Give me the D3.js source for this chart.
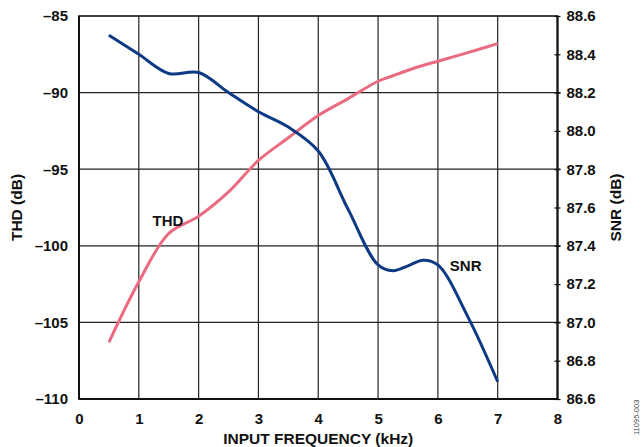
<!DOCTYPE html>
<html>
<head>
<meta charset="utf-8">
<script src="https://cdn.jsdelivr.net/npm/d3@7"></script>
<style>
  body { margin: 0; background: #fff; }
  text { font-family: "Liberation Sans", Arial, sans-serif; font-weight: bold; fill: #111; }
</style>
</head>
<body>
<script>
// input frequency, kHz
var freq = [0.5, 1, 1.5, 2, 2.5, 3, 3.5, 4, 4.5, 5, 5.25, 5.5, 5.75, 6, 6.5, 7];
// THD, dB (left axis)
var thd = [-106.3, -102.35, -99.2, -98.07, -96.48, -94.43, -92.95, -91.5, -90.39, -89.26, -88.9, -88.54, -88.23, -87.95, -87.39, -86.8];
// SNR, dB (right axis)
var snr = [88.50, 88.40, 88.30, 88.305, 88.20, 88.10, 88.02, 87.895, 87.59, 87.30, 87.27, 87.295, 87.325, 87.30, 87.03, 86.69];

var xTicks = [0, 1, 2, 3, 4, 5, 6, 7, 8];
var thdTicks = [-85, -90, -95, -100, -105, -110];
var snrTicks = [88.6, 88.4, 88.2, 88.0, 87.8, 87.6, 87.4, 87.2, 87.0, 86.8, 86.6];

var W = 641, H = 447;
var margin = {top: 16, right: 83.5, bottom: 48, left: 79},
    width = W - margin.left - margin.right,
    height = H - margin.top - margin.bottom;

var x = d3.scaleLinear().domain([0, 8]).range([0, width]);
var yL = d3.scaleLinear().domain([-110, -85]).range([height, 0]);
var yR = d3.scaleLinear().domain([86.6, 88.6]).range([height, 0]);

var svg = d3.select("body").append("svg")
    .attr("width", W)
    .attr("height", H);

var g = svg.append("g")
    .attr("transform", "translate(" + margin.left + "," + margin.top + ")");

var minus = function(v) { return String(v).replace("-", "\u2013"); };

// grid
g.append("g")
    .selectAll("line")
    .data(xTicks.slice(1, -1))
    .join("line")
    .attr("x1", function(d) { return x(d); })
    .attr("x2", function(d) { return x(d); })
    .attr("y1", 0)
    .attr("y2", height)
    .attr("stroke", "#222")
    .attr("stroke-width", 1.2);

g.append("g")
    .selectAll("line")
    .data(thdTicks.slice(1, -1))
    .join("line")
    .attr("x1", 0)
    .attr("x2", width + 3)
    .attr("y1", function(d) { return yL(d); })
    .attr("y2", function(d) { return yL(d); })
    .attr("stroke", "#222")
    .attr("stroke-width", 1.2);

// frame
g.append("rect")
    .attr("width", width)
    .attr("height", height)
    .attr("fill", "none")
    .attr("stroke", "#111")
    .attr("stroke-width", 1.6);
g.append("line").attr("x1", 0).attr("x2", 0).attr("y1", 0).attr("y2", height)
    .attr("stroke", "#111").attr("stroke-width", 2);
g.append("line").attr("x1", 0).attr("x2", width).attr("y1", height).attr("y2", height)
    .attr("stroke", "#111").attr("stroke-width", 2);
g.append("line").attr("x1", width).attr("x2", width).attr("y1", 0).attr("y2", height)
    .attr("stroke", "#111").attr("stroke-width", 2);

// axes
var xAxis = d3.axisBottom(x).tickValues(xTicks).tickSize(0).tickPadding(14)
    .tickFormat(d3.format("d"));
var leftAxis = d3.axisLeft(yL).tickValues(thdTicks).tickSize(0).tickPadding(11)
    .tickFormat(minus);
var rightAxis = d3.axisRight(yR).tickValues(snrTicks).tickSize(3).tickPadding(6)
    .tickFormat(d3.format(".1f"));

function styleAxis(sel) {
    sel.select(".domain").remove();
    sel.selectAll("text").style("font-size", "15px").attr("fill", "#111");
}

g.append("g")
    .attr("transform", "translate(0," + height + ")")
    .call(xAxis)
    .call(styleAxis);

g.append("g")
    .call(leftAxis)
    .call(styleAxis);

g.append("g")
    .attr("transform", "translate(" + width + ",0)")
    .call(rightAxis)
    .call(styleAxis)
    .call(function(s) {
        s.selectAll(".tick line").attr("x1", -3).attr("stroke", "#111").attr("stroke-width", 1.2);
    });

// series
var thdLine = d3.line()
    .x(function(d, i) { return x(freq[i]); })
    .y(function(d) { return yL(d); })
    .curve(d3.curveCatmullRom.alpha(0.5));

var snrLine = d3.line()
    .x(function(d, i) { return x(freq[i]); })
    .y(function(d) { return yR(d); })
    .curve(d3.curveCatmullRom.alpha(0.5));

g.append("path")
    .datum(thd)
    .attr("d", thdLine)
    .attr("fill", "none")
    .attr("stroke", "#ea6a80")
    .attr("stroke-width", 3);

g.append("path")
    .datum(snr)
    .attr("d", snrLine)
    .attr("fill", "none")
    .attr("stroke", "#0c3a84")
    .attr("stroke-width", 3);

// series labels
g.append("text")
    .attr("x", x(1.23))
    .attr("y", yL(-98.7))
    .style("font-size", "15px")
    .text("THD");

g.append("text")
    .attr("x", x(6.2))
    .attr("y", yR(87.27))
    .style("font-size", "15px")
    .text("SNR");

// axis titles
svg.append("text")
    .attr("x", margin.left + width / 2)
    .attr("y", 444)
    .attr("text-anchor", "middle")
    .style("font-size", "15.5px")
    .text("INPUT FREQUENCY (kHz)");

svg.append("text")
    .attr("transform", "translate(22," + (margin.top + height / 2) + ") rotate(-90)")
    .attr("text-anchor", "middle")
    .style("font-size", "15.5px")
    .text("THD (dB)");

svg.append("text")
    .attr("transform", "translate(621," + (margin.top + height / 2) + ") rotate(-90)")
    .attr("text-anchor", "middle")
    .style("font-size", "15.5px")
    .text("SNR (dB)");

svg.append("text")
    .attr("transform", "translate(638.5,435) rotate(-90)")
    .style("font-size", "7.5px")
    .style("font-weight", "normal")
    .style("fill", "#444")
    .text("11095-003");
</script>
</body>
</html>
